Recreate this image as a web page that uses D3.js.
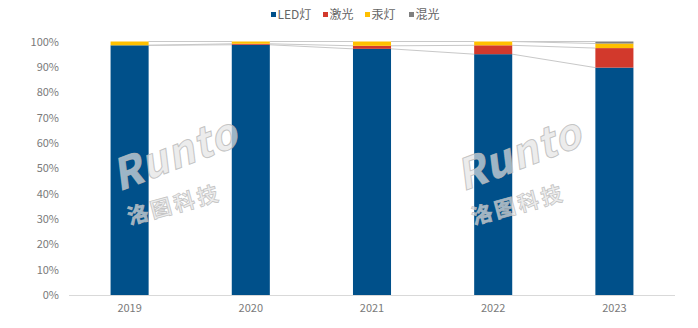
<!DOCTYPE html>
<html>
<head>
<meta charset="utf-8">
<script src="https://cdn.jsdelivr.net/npm/d3@7/dist/d3.min.js"></script>
<style>
  html, body { margin: 0; padding: 0; background: #fff; }
  svg { display: block; }
  text { font-family: "Noto Sans CJK SC", "Liberation Sans", sans-serif; }
</style>
</head>
<body>
<svg id="chart" width="698" height="328"></svg>
<script>
// Light-source share by year (percent of total)
const years = ["2019", "2020", "2021", "2022", "2023"];
const seriesNames = ["LED灯", "激光", "汞灯", "混光"];
const ledShare = [98.5, 98.7, 97.1, 95.0, 89.7];
const laserShare = [0.0, 0.4, 1.2, 3.5, 7.7];
const mercuryShare = [1.5, 0.9, 1.7, 1.5, 1.8];
const mixedShare = [0.0, 0.0, 0.0, 0.0, 0.8];
const yTicks = [0, 10, 20, 30, 40, 50, 60, 70, 80, 90, 100];

const colors = ["#00508A", "#D2392C", "#FFC000", "#7F7F7F"];
const labelColor = "#7A7A7A";

const svg = d3.select("#chart");

const x = d3.scaleBand().domain(years).range([69, 675]).paddingInner(0.686).paddingOuter(0.343);
const y = d3.scaleLinear().domain([0, 100]).range([295, 41.5]);

// Stack
const rows = years.map((yr, i) => ({
  year: yr, s0: ledShare[i], s1: laserShare[i], s2: mercuryShare[i], s3: mixedShare[i]
}));
const stack = d3.stack().keys(["s0", "s1", "s2", "s3"])(rows);

// Series lines between adjacent columns
const lineG = svg.append("g");
stack.forEach(layer => {
  for (let i = 0; i < years.length - 1; i++) {
    lineG.append("line")
      .attr("x1", x(years[i]) + x.bandwidth()).attr("y1", y(layer[i][1]))
      .attr("x2", x(years[i + 1])).attr("y2", y(layer[i + 1][1]))
      .attr("stroke", "#C8C8C8").attr("stroke-width", 1);
  }
});

// Bars
stack.forEach((layer, k) => {
  svg.append("g").selectAll("rect").data(layer).join("rect")
    .attr("x", d => x(d.data.year))
    .attr("width", x.bandwidth())
    .attr("y", d => y(d[1]))
    .attr("height", d => Math.max(0, y(d[0]) - y(d[1])))
    .attr("fill", colors[k]);
});

// Axes
const yAxis = d3.axisLeft(y).tickValues(yTicks).tickFormat(d => d + "%").tickSize(0).tickPadding(0);
const yg = svg.append("g").attr("transform", "translate(59,0)").call(yAxis);
yg.select(".domain").remove();
yg.selectAll("text").attr("fill", labelColor).attr("font-size", 11).attr("font-family", "Noto Sans CJK SC");

const xAxis = d3.axisBottom(x).tickSize(0).tickPadding(9);
const xg = svg.append("g").attr("transform", "translate(0,295)").call(xAxis);
xg.select(".domain").attr("stroke", "#D9D9D9").attr("d", "M69,0.5H675");
xg.selectAll("text").attr("fill", labelColor).attr("font-size", 11).attr("font-family", "Noto Sans CJK SC");

// Legend
const legendX = [271, 323, 365, 409];
const lg = svg.append("g");
seriesNames.forEach((name, k) => {
  lg.append("rect").attr("x", legendX[k]).attr("y", 12).attr("width", 5).attr("height", 5).attr("fill", colors[k]);
  lg.append("text").attr("x", legendX[k] + 6.5).attr("y", 15).attr("dy", "0.35em")
    .attr("fill", "#666").attr("font-size", 12).text(name);
});

// Brand watermark, overlaid semi-transparently
function watermark(cx, cy) {
  const g = svg.append("g").attr("transform", `translate(${cx},${cy})`)
    .attr("fill", "#e4e4e4").attr("fill-opacity", 0.7)
    .attr("stroke", "#b8b8b8").attr("stroke-opacity", 0.8);
  g.append("text").attr("transform", "rotate(-21)").attr("text-anchor", "middle")
    .attr("font-family", "DejaVu Sans").attr("font-style", "italic").attr("font-weight", "bold")
    .attr("font-size", 42).attr("letter-spacing", 1).attr("stroke-width", 1)
    .text("Runto");
  g.append("text").attr("transform", "translate(-4,44) rotate(-15)").attr("text-anchor", "middle")
    .attr("font-family", "Noto Sans CJK SC").attr("font-weight", "bold")
    .attr("font-size", 21).attr("letter-spacing", 3).attr("stroke-width", 0.8)
    .text("洛图科技");
}
watermark(180, 168);
watermark(524, 168);
</script>
</body>
</html>
